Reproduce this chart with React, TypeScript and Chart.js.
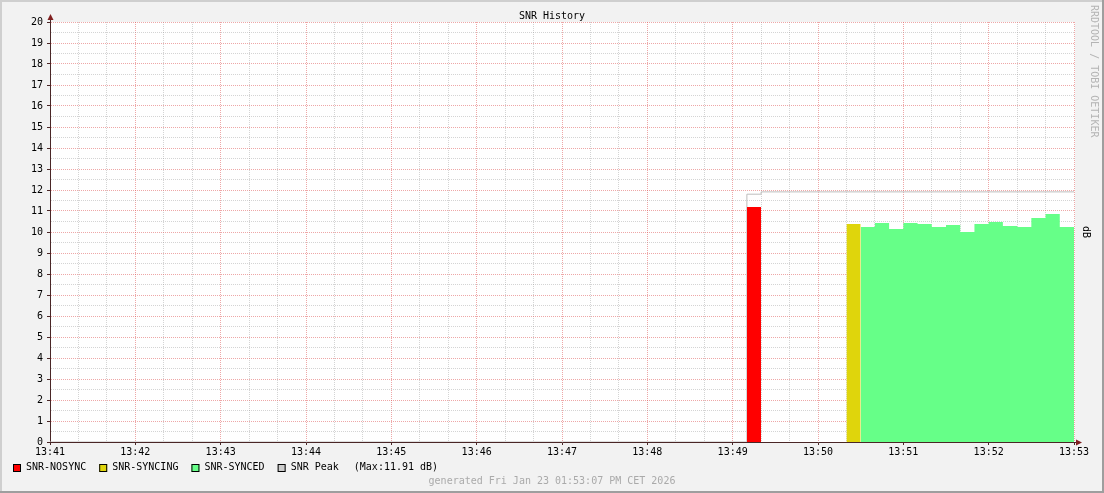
import React, { useEffect, useRef } from 'react';
import { Chart, registerables } from 'chart.js';

Chart.register(...registerables);

// ---- data ----
// x values are seconds after 13:41:00, one RRD step = 10 s
const tickLabels = ['13:41', '13:42', '13:43', '13:44', '13:45', '13:46', '13:47', '13:48', '13:49', '13:50', '13:51', '13:52', '13:53'];
const STEP = 10;
const X_MAX = 720;
const Y_MAX = 20;

const nosyncStart = 490;
const nosyncValues = [11.19];

const syncingStart = 560;
const syncingValues = [10.38];

const syncedStart = 570;
const syncedValues = [10.24, 10.43, 10.14, 10.43, 10.38, 10.24, 10.33, 10.0, 10.38, 10.48, 10.29, 10.24, 10.67, 10.86, 10.24];

const peakTimes = [0, 490, 500, 720];
const peakValues = [0, 11.8, 11.91, 11.91];

const seriesNames = ['SNR-NOSYNC', 'SNR-SYNCING', 'SNR-SYNCED', 'SNR Peak'];
const seriesColors = ['#FF0000', '#DFD50C', '#66FF88', '#CCCCCC'];

const titleText = 'SNR History';
const footerText = 'generated Fri Jan 23 01:53:07 PM CET 2026';
const watermarkText = 'RRDTOOL / TOBI OETIKER';
const unitText = 'dB';

// ---- helpers ----
const FONT = 'DejaVu Sans Mono';
const AXIS_COLOR = '#4a2626';
const ARROW_COLOR = '#801F1F';
const MAJOR_GRID = 'rgba(222,80,80,0.5)';
const MINOR_GRID = 'rgba(143,143,143,0.38)';

function stepPoints(start: number, values: number[]) {
  const pts = values.map((v, i) => ({ x: start + i * STEP, y: v }));
  pts.push({ x: start + values.length * STEP, y: values[values.length - 1] });
  return pts;
}

const rrdDecor = {
  id: 'rrdDecor',
  beforeDraw(chart: any) {
    const { ctx, chartArea, width, height } = chart;
    ctx.save();
    ctx.fillStyle = '#F2F2F2';
    ctx.fillRect(0, 0, width, height);
    // 3d frame
    ctx.fillStyle = '#CFCFCF';
    ctx.fillRect(0, 0, width, 2);
    ctx.fillRect(0, 0, 2, height);
    ctx.fillStyle = '#9E9E9E';
    ctx.fillRect(0, height - 2, width, 2);
    ctx.fillRect(width - 2, 0, 2, height);
    // canvas
    ctx.fillStyle = '#FFFFFF';
    ctx.fillRect(chartArea.left, chartArea.top, chartArea.right - chartArea.left + 1, chartArea.bottom - chartArea.top);
    ctx.restore();
  },
  afterDraw(chart: any) {
    const { ctx } = chart;
    const xs = chart.scales.x;
    const ys = chart.scales.y;
    ctx.save();
    // axis extensions + arrows
    const ax = Math.round(xs.getPixelForValue(0)) + 0.5;
    const ay = Math.round(ys.getPixelForValue(0)) + 0.5;
    const yTop = ys.getPixelForValue(Y_MAX);
    const xRight = xs.getPixelForValue(X_MAX);
    ctx.strokeStyle = AXIS_COLOR;
    ctx.lineWidth = 1;
    ctx.beginPath();
    ctx.moveTo(ax, yTop);
    ctx.lineTo(ax, yTop - 4);
    ctx.moveTo(xRight, ay);
    ctx.lineTo(xRight + 4, ay);
    ctx.stroke();
    ctx.fillStyle = ARROW_COLOR;
    ctx.beginPath();
    ctx.moveTo(ax, yTop - 8);
    ctx.lineTo(ax - 3, yTop - 2);
    ctx.lineTo(ax + 3, yTop - 2);
    ctx.closePath();
    ctx.fill();
    ctx.beginPath();
    ctx.moveTo(xRight + 8, ay);
    ctx.lineTo(xRight + 2, ay - 3);
    ctx.lineTo(xRight + 2, ay + 3);
    ctx.closePath();
    ctx.fill();

    // legend
    ctx.font = `10px "${FONT}"`;
    ctx.textBaseline = 'middle';
    ctx.textAlign = 'left';
    let x = 13;
    const boxTop = 464;
    const textY = 467.5;
    seriesNames.forEach((name, i) => {
      ctx.fillStyle = seriesColors[i];
      ctx.fillRect(x, boxTop, 8, 8);
      ctx.strokeStyle = '#000000';
      ctx.lineWidth = 1;
      ctx.strokeRect(x + 0.5, boxTop + 0.5, 7, 7);
      ctx.fillStyle = '#000000';
      const tx = x + 13;
      ctx.fillText(name, tx, textY);
      x = tx + ctx.measureText(name).width + 13;
    });
    const peakMax = Math.max(...peakValues);
    ctx.fillText(`(Max:${peakMax.toFixed(2)} dB)`, x + 2, textY);

    // watermark (rotated, right edge)
    ctx.save();
    ctx.translate(1093.5, 5);
    ctx.rotate(Math.PI / 2);
    ctx.fillStyle = '#B4B4B4';
    ctx.textAlign = 'left';
    ctx.fillText(watermarkText, 0, 0);
    ctx.restore();

    ctx.restore();
  },
};

export default function App() {
  const ref = useRef<HTMLCanvasElement | null>(null);

  useEffect(() => {
    if (!ref.current) return;
    const areaStyle = (i: number) => ({
      stepped: true,
      fill: 'origin',
      backgroundColor: seriesColors[i],
      borderWidth: 0,
      borderColor: 'rgba(0,0,0,0)',
      pointRadius: 0,
    });
    const chart = new Chart(ref.current, {
      type: 'line',
      data: {
        datasets: [
          { label: seriesNames[0], data: stepPoints(nosyncStart, nosyncValues), ...areaStyle(0) },
          { label: seriesNames[1], data: stepPoints(syncingStart, syncingValues), ...areaStyle(1) },
          { label: seriesNames[2], data: stepPoints(syncedStart, syncedValues), ...areaStyle(2) },
          {
            label: seriesNames[3],
            data: peakTimes.map((t, i) => ({ x: t, y: peakValues[i] })),
            stepped: true,
            fill: false,
            borderColor: '#BEBEBE',
            borderWidth: 1,
            pointRadius: 0,
          },
        ],
      },
      options: {
        responsive: false,
        animation: false,
        devicePixelRatio: 1,
        layout: { padding: { left: 0, right: 0, top: 0, bottom: 6 } },
        plugins: {
          legend: { display: false },
          tooltip: { enabled: false },
          title: {
            display: true,
            text: titleText,
            color: '#000000',
            font: { family: FONT, size: 10, weight: 'normal' },
            padding: { top: 10, bottom: 0 },
          },
          subtitle: {
            display: true,
            text: footerText,
            position: 'bottom',
            color: '#AAAAAA',
            font: { family: FONT, size: 10, weight: 'normal' },
            padding: { top: 13, bottom: 0 },
          },
        },
        scales: {
          x: {
            type: 'linear',
            position: 'bottom',
            min: 0,
            max: X_MAX,
            z: 1,
            afterFit: (s: any) => { s.height = 20; },
            ticks: {
              stepSize: 20,
              autoSkip: false,
              maxRotation: 0,
              minRotation: 0,
              padding: 1,
              color: '#000000',
              font: { family: FONT, size: 10 },
              callback: (v: any) => (Number(v) % 60 === 0 ? tickLabels[Number(v) / 60] : ''),
            },
            grid: {
              color: (c: any) => (c.tick && c.tick.value % 60 === 0 ? MAJOR_GRID : MINOR_GRID),
              lineWidth: 1,
              drawTicks: true,
              tickLength: 3,
              tickColor: (c: any) => (c.tick && c.tick.value % 60 === 0 ? AXIS_COLOR : 'rgba(0,0,0,0)'),
            },
            border: { display: true, color: AXIS_COLOR, width: 1, dash: [1, 1] },
          },
          y: {
            type: 'linear',
            position: 'left',
            min: 0,
            max: Y_MAX,
            z: 1,
            afterFit: (s: any) => { s.width = 50; },
            ticks: {
              stepSize: 0.5,
              autoSkip: false,
              padding: 4,
              color: '#000000',
              font: { family: FONT, size: 10 },
              callback: (v: any) => (Number(v) % 1 === 0 ? String(v) : ''),
            },
            grid: {
              color: (c: any) => (c.tick && c.tick.value % 1 === 0 ? MAJOR_GRID : MINOR_GRID),
              lineWidth: 1,
              drawTicks: true,
              tickLength: 3,
              tickColor: (c: any) => (c.tick && c.tick.value % 1 === 0 ? AXIS_COLOR : 'rgba(0,0,0,0)'),
            },
            border: { display: true, color: AXIS_COLOR, width: 1, dash: [1, 1] },
          },
          yUnit: {
            type: 'linear',
            position: 'right',
            min: 0,
            max: Y_MAX,
            afterFit: (s: any) => { s.width = 30; },
            ticks: { display: false },
            grid: { display: false, drawTicks: false },
            border: { display: false },
            title: {
              display: true,
              text: unitText,
              color: '#000000',
              font: { family: FONT, size: 10, weight: 'normal' },
              padding: { top: 12, bottom: 0 },
            },
          },
        },
      },
      plugins: [rrdDecor],
    } as any);
    return () => chart.destroy();
  }, []);

  return (
    <div style={{ position: 'fixed', left: 0, top: 0, width: 1104, height: 493 }}>
      <canvas ref={ref} width={1104} height={493} style={{ display: 'block', width: 1104, height: 493 }} />
    </div>
  );
}
